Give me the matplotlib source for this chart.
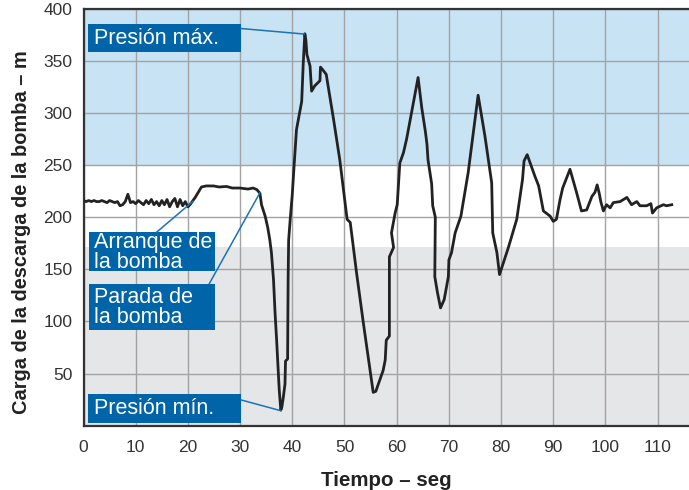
import numpy as np
import matplotlib
matplotlib.use("Agg")
import matplotlib.pyplot as plt
from matplotlib.patches import Rectangle

# ---- data ----
t_pre = [i * 0.5 for i in range(41)]
h_pre = [216, 215, 216, 215, 216, 215, 215, 216, 215, 214, 216, 215, 214, 215, 211, 212,
         215, 222, 214, 215, 213, 216, 214, 212, 216, 213, 217, 212, 215, 211, 216, 212,
         217, 210, 215, 218, 210, 217, 211, 215, 210]

t_trans = [20.4, 21.4, 22.6, 23.5, 24.9, 26.0, 27.4, 28.5, 30.0, 31.5, 32.5, 33.2, 33.8, 34.1,
           34.8, 35.3, 35.7, 36.0, 36.4, 36.7, 37.0, 37.3, 37.5, 37.8, 38.0, 38.3, 38.6, 38.7,
           39.1, 39.2, 39.3, 39.6, 40.0, 40.3, 40.8, 41.8, 42.1, 42.4, 42.6, 42.8, 43.4, 43.7,
           44.3, 45.3, 45.4, 45.9, 46.5, 47.9, 49.1, 50.5, 51.1, 52.3, 53.6, 55.5, 56.0, 57.4,
           57.8, 58.0, 58.6, 58.6, 59.4, 59.0, 59.7, 60.1, 60.6, 61.3, 61.9, 64.1, 64.8, 65.5,
           65.8, 66.0, 66.7, 66.9, 67.4, 67.3, 67.8, 68.4, 69.1, 69.9, 70.0, 70.5, 71.2, 72.3,
           73.7, 75.6, 76.9, 78.2, 78.4, 79.2, 79.7, 81.4, 83.0, 84.1, 84.4, 85.0, 86.5, 87.2,
           88.1, 89.4, 90.0, 90.6, 91.3, 91.8, 93.2, 94.5, 95.4, 96.4, 97.4, 98.0, 98.4, 98.8,
           99.1, 99.6, 100.2, 100.9, 101.5, 102.8, 104.1, 105.0, 106.0, 106.6, 107.9, 108.7,
           109.0, 109.8, 111.1, 111.7, 112.7]
h_trans = [212, 219, 229, 230, 230, 229, 229.5, 228, 228, 227, 228, 226.5, 223, 212,
           201, 190, 178, 166, 140, 108, 82, 53, 34, 15, 18, 28, 40, 62,
           64, 140, 178, 198, 222, 246, 284, 311, 348, 376, 370, 356, 345, 321,
           326, 331, 344, 341, 337, 294, 255, 198, 195, 147, 99, 32, 33, 53,
           63, 82, 86, 162, 171, 185, 204, 212, 252, 262, 275, 334, 305, 282,
           270, 255, 232, 211, 200, 143, 128, 113, 121, 143, 159, 166, 185, 201,
           243, 317, 278, 233, 185, 166, 145, 171, 198, 236, 254, 260, 239, 230,
           206, 201, 196, 198, 217, 228, 246, 223, 206, 207, 220, 224, 231, 223,
           215, 206, 212, 209, 214, 215, 219, 212, 215, 211, 211, 213,
           204, 209, 212, 211, 212]

x_ticks = list(range(0, 120, 10))
y_ticks = [50, 100, 150, 200, 250, 300, 350, 400]

labels = ["Presión máx.", "Arranque de\nla bomba", "Parada de\nla bomba", "Presión mín."]

# ---- style ----
plt.rcParams['font.family'] = ['Liberation Sans', 'DejaVu Sans']
blue_box = "#0064a8"
lead_col = "#1a72b8"

fig = plt.figure(figsize=(6.89, 4.90), dpi=100)
ax = fig.add_axes([0.1212, 0.1312, 0.8788, 0.851])
ax.set_xlim(0, 116)
ax.set_ylim(0, 400)

ax.axhspan(250, 400, color="#c8e3f4", zorder=0, lw=0)
ax.axhspan(0, 171, color="#e5e6e8", zorder=0, lw=0)

ax.set_xticks(x_ticks)
ax.set_yticks(y_ticks)
ax.grid(True, color="#a3a3a3", lw=1.0, zorder=1)
ax.set_axisbelow(True)
ax.tick_params(length=0, labelsize=12.5, labelcolor="#333333")
ax.tick_params(axis='x', pad=10.5)
ax.tick_params(axis='y', pad=8)

for s in ['left', 'bottom', 'top']:
    ax.spines[s].set_color("#333333")
    ax.spines[s].set_linewidth(1.6)
ax.spines['right'].set_visible(False)

t_all = t_pre + t_trans
h_all = h_pre + h_trans
ax.plot(t_all, h_all, color="#222222", lw=2.0, zorder=5, solid_joinstyle='round')

ax.set_xlabel("Tiempo – seg", fontsize=14.8, fontweight='bold', color="#222222", labelpad=11)
ax.set_ylabel("Carga de la descarga de la bomba – m", fontsize=14.4, fontweight='bold',
              color="#222222")
ax.yaxis.set_label_coords(-0.086, 0.464)

# annotation boxes: (x0, x1, y0, y1), leader from (y, x), leader to (x, y)
boxes = [
    ((0.86, 30.2, 358.4, 385.3), (381.0, 30.2), (42.3, 375.7)),
    ((0.98, 25.2, 148.1, 185.6), (185.6, 14.0), (21.0, 215.4)),
    ((0.98, 25.2, 92.0, 136.3), (136.3, 24.1), (33.8, 223.5)),
    ((0.86, 30.2, 2.9, 30.5), (24.7, 30.2), (37.8, 14.4)),
]
for lab, (bx, (ly, lx), (px, py)) in zip(labels, boxes):
    x0, x1, y0, y1 = bx
    ax.add_patch(Rectangle((x0, y0), x1 - x0, y1 - y0, facecolor=blue_box,
                           edgecolor="none", zorder=6))
    ax.text(x0 + 1.1, (y0 + y1) / 2 - 0.5, lab, color="white", fontsize=15.5,
            va='center', ha='left', zorder=7, linespacing=0.92)
    ax.plot([lx, px], [ly, py], color=lead_col, lw=1.1, zorder=6)

fig.savefig("out.png", dpi=100)
